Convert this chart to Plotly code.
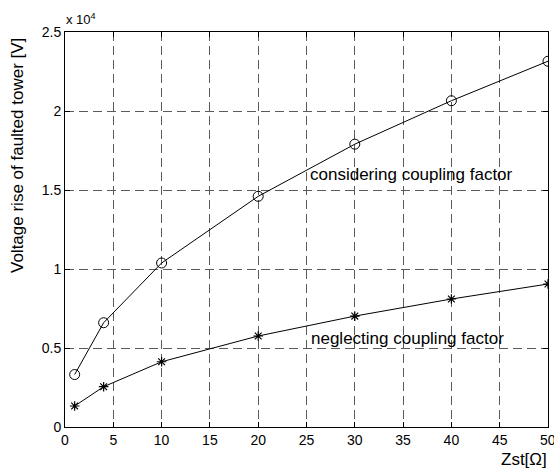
import plotly.graph_objects as go

zst = [1, 4, 10, 20, 30, 40, 50]
considering = [3320, 6600, 10380, 14600, 17900, 20650, 23150]
neglecting = [1330, 2550, 4130, 5760, 7020, 8100, 9050]

x_ticks = [0, 5, 10, 15, 20, 25, 30, 35, 40, 45, 50]
x_ticktext = ["0", "5", "10", "15", "20", "25", "30", "35", "40", "45", ""]
last_x_label = "50"
y_ticks = [0, 5000, 10000, 15000, 20000, 25000]
y_ticktext = ["0", "0.5", "1", "1.5", "2", "2.5"]

FAM = "Liberation Sans, Arial, Helvetica, sans-serif"
tick_font = dict(family=FAM, size=14, color="black")
text_font = dict(family=FAM, size=17, color="black")

W, H = 554, 470
ML, MR, MT, MB = 65, 6, 32, 43
plot_w = W - ML - MR
plot_h = H - MT - MB

def px_to_paper_x(px):
    return (px - ML) / plot_w

def px_to_paper_y(py):
    return (H - MB - py) / plot_h

fig = go.Figure()
fig.add_trace(go.Scatter(x=zst, y=considering, mode="lines+markers",
                         line=dict(color="black", width=1),
                         marker=dict(symbol="circle-open", size=10, color="black", line=dict(width=1)),
                         showlegend=False))
fig.add_trace(go.Scatter(x=zst, y=neglecting, mode="lines+markers",
                         line=dict(color="black", width=1),
                         marker=dict(symbol="asterisk-open", size=8, color="black", line=dict(width=1.2)),
                         showlegend=False))

axis_common = dict(showline=True, linecolor="black", linewidth=1, mirror="ticks",
                   ticks="inside", ticklen=5, tickcolor="black", tickwidth=1,
                   showgrid=True, gridcolor="#5a5a5a", gridwidth=1, griddash="9px,5px",
                   zeroline=False, tickfont=tick_font)

fig.update_xaxes(range=[0, 50], tickvals=x_ticks, ticktext=x_ticktext, **axis_common)
fig.update_yaxes(range=[0, 25000], tickvals=y_ticks, ticktext=y_ticktext, **axis_common)

# last x tick label (would be dropped by plotly since it overflows the page edge)
fig.add_annotation(x=x_ticks[-1], y=0, xref="x", yref="paper", text=last_x_label,
                   showarrow=False, xanchor="center", yanchor="top", yshift=-3, font=tick_font)

fig.add_annotation(x=25.2, y=16000, xref="x", yref="y", text="considering coupling factor",
                   showarrow=False, xanchor="left", yanchor="middle", font=text_font)
fig.add_annotation(x=25.3, y=5570, xref="x", yref="y", text="neglecting coupling factor",
                   showarrow=False, xanchor="left", yanchor="middle", font=text_font)
fig.add_annotation(x=px_to_paper_x(64), y=px_to_paper_y(19), xref="paper", yref="paper",
                   text="x 10<sup>4</sup>",
                   showarrow=False, xanchor="left", yanchor="middle", font=dict(family=FAM, size=13, color="black"))
fig.add_annotation(x=px_to_paper_x(549), y=px_to_paper_y(459), xref="paper", yref="paper",
                   text="Zst[Ω]",
                   showarrow=False, xanchor="right", yanchor="middle", font=text_font)
fig.add_annotation(x=px_to_paper_x(17), y=px_to_paper_y(156), xref="paper", yref="paper",
                   text="Voltage rise of faulted tower [V]",
                   showarrow=False, textangle=-90, xanchor="center", yanchor="middle", font=text_font)

fig.update_layout(width=W, height=H, margin=dict(l=ML, r=MR, t=MT, b=MB, autoexpand=False),
                  plot_bgcolor="white", paper_bgcolor="white", font=tick_font)

fig.write_html("out.html", config={"displayModeBar": False},
               post_script="document.body.style.margin='0';document.body.style.overflow='hidden';")
